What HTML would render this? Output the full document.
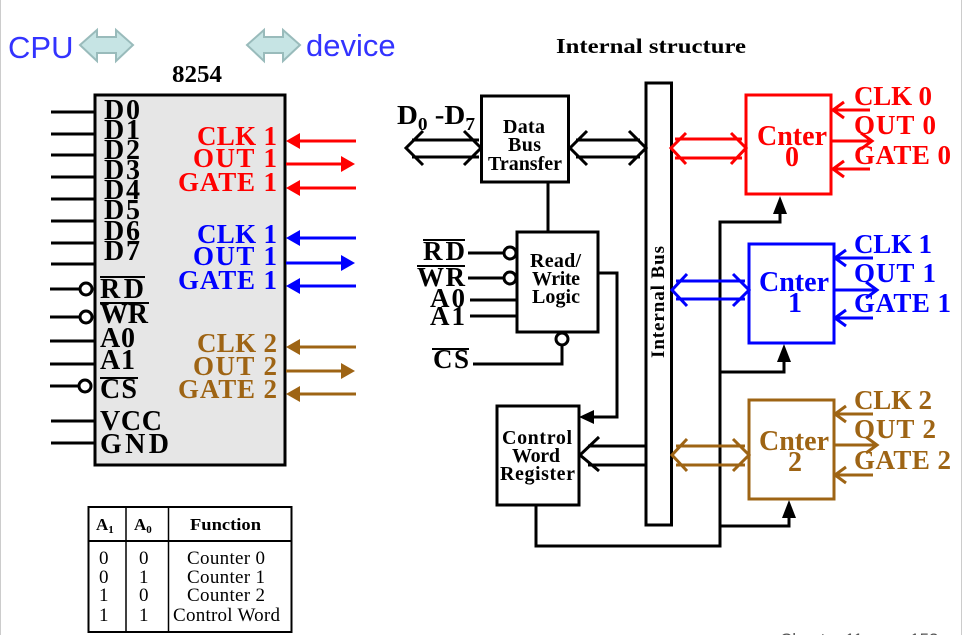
<!DOCTYPE html>
<html><head><meta charset="utf-8"><style>
html,body{margin:0;padding:0;background:#fff;width:965px;height:635px;overflow:hidden}
svg{display:block}
text{font-family:"Liberation Serif",serif;font-weight:bold}
.s{font-family:"Liberation Sans",sans-serif;font-weight:normal}
.n{font-weight:normal}
</style></head><body>
<svg width="965" height="635" viewBox="0 0 965 635" xmlns="http://www.w3.org/2000/svg">
<line x1="0.5" y1="0" x2="0.5" y2="635" stroke="#ccc" stroke-width="1"/>
<line x1="961.5" y1="0" x2="961.5" y2="635" stroke="#ccc" stroke-width="1"/>
<text x="8" y="58" class="s" font-size="31" fill="#3333ff">CPU</text>
<path d="M80,45 L97,30 L97,37 L116,37 L116,30 L133,45 L116,61 L116,53 L97,53 L97,61 Z" fill="#c6e4e4" stroke="#9bb" stroke-width="2"/>
<path d="M247,45 L264,30 L264,37 L283,37 L283,30 L300,45 L283,61 L283,53 L264,53 L264,61 Z" fill="#c6e4e4" stroke="#9bb" stroke-width="2"/>
<text x="306" y="56" class="s" font-size="31" fill="#3333ff">device</text>
<text x="172" y="82" font-size="24" textLength="50" lengthAdjust="spacingAndGlyphs">8254</text>
<text x="556" y="53" font-size="21" textLength="190" lengthAdjust="spacingAndGlyphs">Internal structure</text>

<rect x="95" y="95" width="190" height="370" fill="#e6e6e6" stroke="#000" stroke-width="3"/>
<g stroke="#000" stroke-width="3">
<line x1="51" y1="112" x2="95" y2="112"/><line x1="51" y1="134" x2="95" y2="134"/>
<line x1="51" y1="155" x2="95" y2="155"/><line x1="51" y1="177" x2="95" y2="177"/>
<line x1="51" y1="199" x2="95" y2="199"/><line x1="51" y1="221" x2="95" y2="221"/>
<line x1="51" y1="243" x2="95" y2="243"/><line x1="51" y1="264" x2="95" y2="264"/>
<line x1="50" y1="289" x2="80" y2="289"/><line x1="50" y1="317" x2="80" y2="317"/>
<line x1="50" y1="341" x2="95" y2="341"/><line x1="50" y1="364" x2="95" y2="364"/>
<line x1="50" y1="386" x2="79" y2="386"/>
<line x1="51" y1="421" x2="95" y2="421"/><line x1="51" y1="443" x2="95" y2="443"/>
<line x1="100" y1="277" x2="145" y2="277" stroke-width="2"/>
<line x1="100" y1="303" x2="149" y2="303" stroke-width="2"/>
<line x1="100" y1="378" x2="138" y2="378" stroke-width="2"/>
</g>
<g fill="#fff" stroke="#000" stroke-width="3">
<circle cx="86" cy="289" r="6"/><circle cx="86" cy="317" r="6"/><circle cx="85" cy="386" r="6"/>
</g>
<g font-size="28" lengthAdjust="spacingAndGlyphs">
<text x="104" y="119" textLength="36">D0</text><text x="104" y="139" textLength="36">D1</text><text x="104" y="159" textLength="36">D2</text>
<text x="104" y="179" textLength="36">D3</text><text x="104" y="199" textLength="36">D4</text><text x="104" y="219" textLength="36">D5</text>
<text x="104" y="240" textLength="36">D6</text><text x="104" y="260" textLength="36">D7</text>
<text x="100" y="298" textLength="44">RD</text><text x="100" y="323" textLength="48">WR</text>
<text x="100" y="347" textLength="35">A0</text><text x="100" y="369" textLength="35">A1</text><text x="100" y="398" textLength="37">CS</text>
<text x="100" y="430" textLength="62">VCC</text><text x="100" y="453" textLength="69">GND</text>
</g>
<g font-size="27" lengthAdjust="spacingAndGlyphs">
<text x="197" y="145" fill="#ff0000" textLength="80">CLK 1</text><text x="193" y="167" fill="#ff0000" textLength="84">OUT 1</text><text x="178" y="191" fill="#ff0000" textLength="99">GATE 1</text>
<text x="197" y="243" fill="#0000ff" textLength="80">CLK 1</text><text x="193" y="265" fill="#0000ff" textLength="84">OUT 1</text><text x="178" y="289" fill="#0000ff" textLength="99">GATE 1</text>
<text x="197" y="352" fill="#9e6414" textLength="80">CLK 2</text><text x="193" y="375" fill="#9e6414" textLength="84">OUT 2</text><text x="178" y="398" fill="#9e6414" textLength="99">GATE 2</text>
</g>
<g stroke-width="3">
<line x1="298" y1="141" x2="356" y2="141" stroke="#f00"/><path d="M286,141 L300,133 L300,149 Z" fill="#f00"/>
<line x1="286" y1="164" x2="343" y2="164" stroke="#f00"/><path d="M355,164 L341,156 L341,172 Z" fill="#f00"/>
<line x1="298" y1="188" x2="356" y2="188" stroke="#f00"/><path d="M286,188 L300,180 L300,196 Z" fill="#f00"/>
<line x1="298" y1="238" x2="356" y2="238" stroke="#00f"/><path d="M286,238 L300,230 L300,246 Z" fill="#00f"/>
<line x1="286" y1="263" x2="343" y2="263" stroke="#00f"/><path d="M355,263 L341,255 L341,271 Z" fill="#00f"/>
<line x1="298" y1="286" x2="356" y2="286" stroke="#00f"/><path d="M286,286 L300,278 L300,294 Z" fill="#00f"/>
<line x1="298" y1="347" x2="356" y2="347" stroke="#9e6414"/><path d="M286,347 L300,339 L300,355 Z" fill="#9e6414"/>
<line x1="286" y1="371" x2="343" y2="371" stroke="#9e6414"/><path d="M355,371 L341,363 L341,379 Z" fill="#9e6414"/>
<line x1="298" y1="394" x2="356" y2="394" stroke="#9e6414"/><path d="M286,394 L300,386 L300,402 Z" fill="#9e6414"/>
</g>

<g stroke="#000" fill="none">
<rect x="88.5" y="507" width="203" height="125" stroke-width="2"/>
<line x1="126" y1="507" x2="126" y2="632" stroke-width="1.5"/>
<line x1="168.5" y1="507" x2="168.5" y2="632" stroke-width="1.5"/>
<line x1="88" y1="541" x2="292" y2="541" stroke-width="2"/>
</g>
<g font-size="17">
<text x="96" y="530">A<tspan font-size="11" dy="3">1</tspan></text>
<text x="134" y="530">A<tspan font-size="11" dy="3">0</tspan></text>
<text x="190" y="530" font-size="17" textLength="71" lengthAdjust="spacingAndGlyphs">Function</text>
</g>
<g font-size="19" class="n" lengthAdjust="spacingAndGlyphs">
<text class="n" x="99" y="564">0</text><text class="n" x="139" y="564">0</text><text class="n" x="187" y="564" textLength="78">Counter 0</text>
<text class="n" x="99" y="583">0</text><text class="n" x="139" y="583">1</text><text class="n" x="187" y="583" textLength="78">Counter 1</text>
<text class="n" x="99" y="601">1</text><text class="n" x="139" y="601">0</text><text class="n" x="187" y="601" textLength="78">Counter 2</text>
<text class="n" x="99" y="621">1</text><text class="n" x="139" y="621">1</text><text class="n" x="173" y="621" textLength="107">Control Word</text>
</g>
<text x="780" y="645" class="s" font-size="17" fill="#555">Chapter 11 page 153</text>

<g stroke="#000" stroke-width="3" fill="none">
<rect x="481.5" y="96" width="87" height="86"/>
<rect x="646" y="83" width="25.5" height="442" fill="#fff"/>
<rect x="517" y="232" width="81" height="100"/>
<rect x="497" y="406" width="82" height="99"/>
<path d="M423,131 L406,148 L423,165 M412,140 L479,140 M412,157 L479,157 M464,131 L481,148 L464,165"/>
<path d="M587,131 L570,148 L587,165 M576,140 L640,140 M576,157 L640,157 M629,131 L646,148 L629,165"/>
<line x1="548" y1="182" x2="548" y2="232"/>
<line x1="468" y1="253" x2="504" y2="253"/>
<line x1="468" y1="278" x2="504" y2="278"/>
<line x1="470" y1="300" x2="517" y2="300"/>
<line x1="470" y1="316" x2="517" y2="316"/>
<path d="M473,364 L562,364 L562,346"/>
<path d="M598,273 L617,273 L617,417 L592,417"/>
<path d="M599,437 L580,455 L599,471 M588,446 L646,446 M588,465 L646,465"/>
<path d="M536,505 L536,546 L720,546 L720,222 L780,222 L780,212"/>
<path d="M720,372 L784,372 L784,360"/>
<path d="M720,526 L789,526 L789,516"/>
</g>
<g fill="#fff" stroke="#000" stroke-width="3">
<circle cx="510" cy="253" r="6"/><circle cx="510" cy="278" r="6"/><circle cx="562" cy="339" r="6"/>
</g>
<g fill="#000">
<path d="M579,417 L594,410 L594,424 Z"/>
<path d="M780,196 L773,214 L787,214 Z"/>
<path d="M784,344 L777,362 L791,362 Z"/>
<path d="M789,500 L782,518 L796,518 Z"/>
</g>
<g font-size="20" lengthAdjust="spacingAndGlyphs">
<text x="503" y="133" textLength="42">Data</text><text x="508" y="151" textLength="33">Bus</text><text x="488" y="170" textLength="74">Transfer</text>
<text x="530" y="267" textLength="51">Read/</text><text x="532" y="285" textLength="48">Write</text><text x="532" y="303" textLength="48">Logic</text>
<text x="502" y="444" textLength="70">Control</text><text x="512" y="462" textLength="48">Word</text><text x="500" y="480" textLength="75">Register</text>
<text transform="translate(664,302) rotate(-90)" text-anchor="middle" font-size="19" textLength="112">Internal Bus</text>
</g>
<g font-size="27" lengthAdjust="spacingAndGlyphs">
<text x="423" y="260" textLength="42">RD</text><text x="417" y="286" textLength="48">WR</text>
<text x="430" y="307" textLength="35">A0</text><text x="430" y="325" textLength="35">A1</text><text x="433" y="368" textLength="36">CS</text>
</g>
<g stroke="#000" stroke-width="2">
<line x1="423" y1="240" x2="465" y2="240"/><line x1="417" y1="266" x2="465" y2="266"/>
<line x1="432" y1="349" x2="469" y2="349"/>
</g>
<text x="397" y="124" font-size="27" textLength="78" lengthAdjust="spacingAndGlyphs">D<tspan font-size="18" dy="6">0</tspan><tspan dy="-6"> -D</tspan><tspan font-size="18" dy="6">7</tspan></text>

<g fill="none" stroke-width="3">
<rect x="746" y="95" width="85" height="99" stroke="#f00"/>
<rect x="749" y="244" width="85" height="99" stroke="#00f"/>
<rect x="749" y="400" width="85" height="99" stroke="#9e6414"/>
<path d="M686,133 L671,148 L686,164 M675,139 L742,139 M675,158 L742,158 M731,133 L746,148 L731,164" stroke="#f00"/>
<path d="M687,274 L672,290 L687,306 M676,281 L745,281 M676,299 L745,299 M733,274 L749,290 L733,306" stroke="#00f"/>
<path d="M687,439 L672,455 L687,471 M676,446 L745,446 M676,465 L745,465 M733,439 L749,455 L733,471" stroke="#9e6414"/>
<path d="M870,110 L834,110 M844,102 L833,110 L844,118 M831,141 L871,141 M861,133 L872,141 L861,149 M870,169 L834,169 M844,161 L833,169 L844,177" stroke="#f00"/>
<path d="M873,258 L836,258 M846,250 L835,258 L846,266 M834,290 L876,290 M866,282 L877,290 L866,298 M873,318 L836,318 M846,310 L835,318 L846,326" stroke="#00f"/>
<path d="M873,414 L836,414 M846,406 L835,414 L846,422 M834,445 L876,445 M866,437 L877,445 L866,453 M873,475 L836,475 M846,467 L835,475 L846,483" stroke="#9e6414"/>
</g>
<g font-size="28" lengthAdjust="spacingAndGlyphs">
<text x="757" y="145" fill="#f00" textLength="70">Cnter</text><text x="792" y="166" fill="#f00" text-anchor="middle">0</text>
<text x="759" y="291" fill="#00f" textLength="70">Cnter</text><text x="795" y="312" fill="#00f" text-anchor="middle">1</text>
<text x="759" y="450" fill="#9e6414" textLength="70">Cnter</text><text x="795" y="471" fill="#9e6414" text-anchor="middle">2</text>
</g>
<g font-size="27" lengthAdjust="spacingAndGlyphs">
<text x="854" y="105" fill="#f00" textLength="78">CLK 0</text><text x="854" y="134" fill="#f00" textLength="82">OUT 0</text><text x="854" y="164" fill="#f00" textLength="97">GATE 0</text>
<text x="854" y="253" fill="#00f" textLength="78">CLK 1</text><text x="854" y="282" fill="#00f" textLength="82">OUT 1</text><text x="854" y="312" fill="#00f" textLength="97">GATE 1</text>
<text x="854" y="409" fill="#9e6414" textLength="78">CLK 2</text><text x="854" y="438" fill="#9e6414" textLength="82">OUT 2</text><text x="854" y="469" fill="#9e6414" textLength="97">GATE 2</text>
</g>
</svg>
</body></html>
